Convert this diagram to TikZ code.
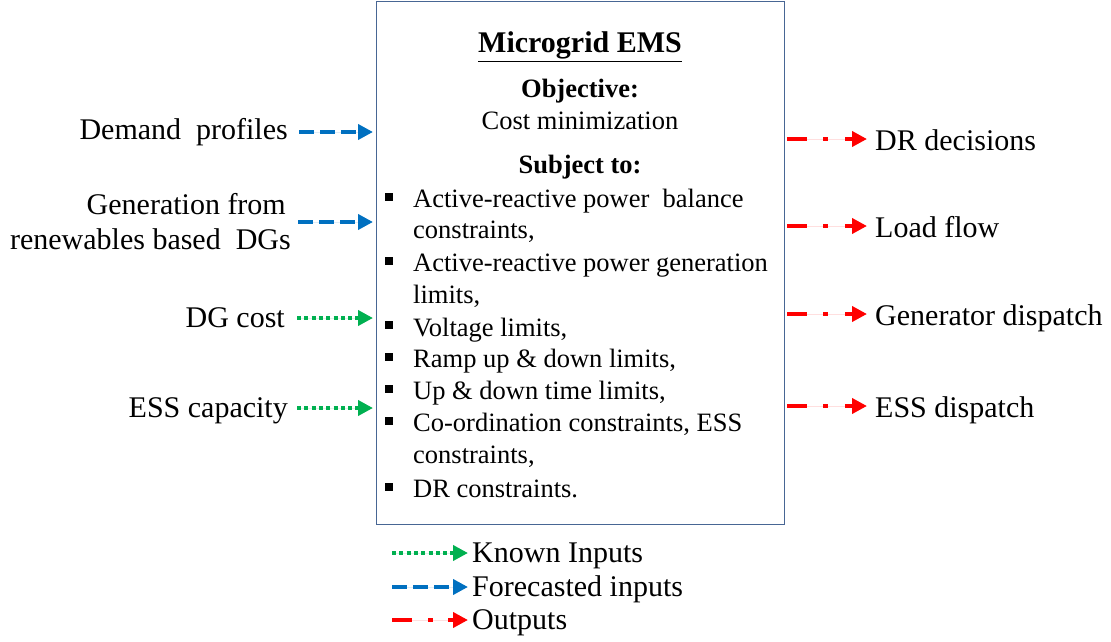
\documentclass[tikz,border=0pt]{standalone}
\usepackage{fontspec}
\setmainfont{Liberation Serif}
\usetikzlibrary{arrows.meta}
\definecolor{fblue}{RGB}{0,112,192}
\definecolor{kgreen}{RGB}{0,176,80}
\definecolor{ored}{RGB}{255,0,0}
\definecolor{boxline}{RGB}{72,102,148}
\begin{document}
\begin{tikzpicture}[x=1pt,y=-1pt,
  txt/.style={inner sep=0pt,font=\fontsize{26.5}{32}\selectfont},
  big/.style={inner sep=0pt,font=\fontsize{30}{36}\selectfont},
  lab/.style={big,anchor=base east},
  outlab/.style={big,anchor=base west},
  item/.style={txt,anchor=base west},
  mid/.style={txt,anchor=base},
  bul/.style={fill=black,minimum size=7.5pt,inner sep=0pt},
  head/.style={-{Triangle[length=15pt,width=15pt]}},
  fcast/.style={head,draw=fblue,fill=fblue,line width=4.2pt,dash pattern=on 15pt off 6pt},
  known/.style={head,draw=kgreen,fill=kgreen,line width=4.2pt,dash pattern=on 4pt off 3.3pt},
  outp/.style={head,draw=ored,fill=ored,line width=4.2pt,dash pattern=on 20pt off 16pt on 5pt off 17pt},
]
\useasboundingbox (0,0) rectangle (1111,642);

% central EMS block
\node[draw=boxline,line width=1.3pt,minimum width=408pt,minimum height=523pt,inner sep=0pt,anchor=north west] (ems) at (376,0.7) {};

\node[mid,font=\fontsize{30}{36}\selectfont\bfseries] (title) at (580,53) {\underline{Microgrid EMS}};
\node[mid,font=\fontsize{26.5}{32}\selectfont\bfseries] (obj) at (580,97) {Objective:};
\node[mid] (cost) at (580,129) {Cost minimization};
\node[mid,font=\fontsize{26.5}{32}\selectfont\bfseries] (subj) at (580,173) {Subject to:};

% constraint list
\node[item] (c1) at (413,207) {Active-reactive power\ \ balance};
\node[item] (c1b) at (413,238) {constraints,};
\node[item] (c2) at (413,271) {Active-reactive power generation};
\node[item] (c2b) at (413,303) {limits,};
\node[item] (c3) at (413,336) {Voltage limits,};
\node[item] (c4) at (413,367) {Ramp up \& down limits,};
\node[item] (c5) at (413,399) {Up \& down time limits,};
\node[item] (c6) at (413,431) {Co-ordination constraints, ESS};
\node[item] (c6b) at (413,463) {constraints,};
\node[item] (c7) at (413,497) {DR constraints.};
\foreach \n/\y in {b1/197,b2/261,b3/325,b4/357,b5/389,b6/421,b7/487}
  \node[bul] (\n) at (389,\y) {};

% inputs
\node[lab] (dem) at (288,139) {Demand\ \ profiles};
\node[lab] (gen1) at (286,214) {Generation from};
\node[lab] (gen2) at (291,249) {renewables based\ \ DGs};
\node[lab] (dgc) at (285,327) {DG cost};
\node[lab] (ess) at (288,417) {ESS capacity};

\coordinate (i1) at (299,132);
\coordinate (i2) at (298,222);
\coordinate (i3) at (297,318);
\coordinate (i4) at (297,408);
\draw[fcast,shorten >=3pt] (i1) -- (ems.west |- i1);
\draw[fcast,shorten >=3pt] (i2) -- (ems.west |- i2);
\draw[known,shorten >=3pt] (i3) -- (ems.west |- i3);
\draw[known,shorten >=3pt] (i4) -- (ems.west |- i4);

% outputs
\node[outlab] (dr) at (875,150) {DR decisions};
\node[outlab] (lf) at (875,237) {Load flow};
\node[outlab] (gd) at (875,325) {Generator dispatch};
\node[outlab] (ed) at (875,417) {ESS dispatch};

\coordinate (o1) at (867,139);
\coordinate (o2) at (867,226);
\coordinate (o3) at (867,314);
\coordinate (o4) at (867,406);
\draw[outp,shorten <=2pt] (ems.east |- o1) -- (o1);
\draw[outp,shorten <=2pt] (ems.east |- o2) -- (o2);
\draw[outp,shorten <=2pt] (ems.east |- o3) -- (o3);
\draw[outp,shorten <=2pt] (ems.east |- o4) -- (o4);

% legend
\node[outlab] (lk) at (472,562) {Known Inputs};
\node[outlab] (lf2) at (472,596) {Forecasted inputs};
\node[outlab] (lo) at (472,629) {Outputs};
\coordinate (k0) at (392,553);
\coordinate (f0) at (392,587);
\coordinate (r0) at (392,620);
\draw[known,shorten >=4pt] (k0) -- (k0 -| lk.west);
\draw[fcast,shorten >=4pt] (f0) -- (f0 -| lf2.west);
\draw[outp,shorten >=4pt,dash pattern=on 20pt off 16pt on 5pt off 15pt] (r0) -- (r0 -| lo.west);
\end{tikzpicture}
\end{document}
